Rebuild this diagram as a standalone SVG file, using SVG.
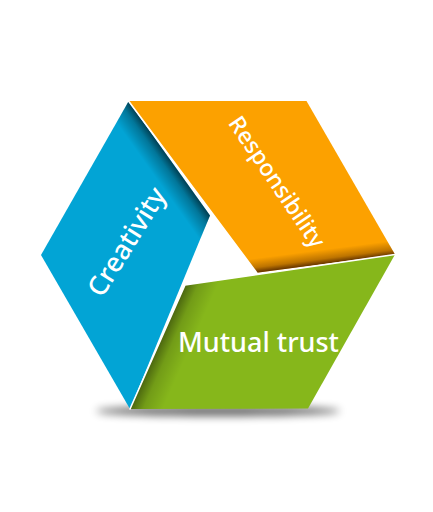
<svg xmlns="http://www.w3.org/2000/svg" width="433" height="512" viewBox="0 0 433 512">
  <style>
    .label { fill: #ffffff; font-family: "Noto Sans", "Open Sans", sans-serif; font-weight: 500; text-anchor: middle; }
    .edge { fill: none; stroke: #ffffff; stroke-width: 1.6; stroke-linecap: round; }
  </style>
  <defs>
    <filter id="blur" x="-50%" y="-200%" width="200%" height="500%">
      <feGaussianBlur stdDeviation="4"/>
    </filter>
    <linearGradient id="shadeBlue" gradientUnits="userSpaceOnUse" x1="169" y1="158.5" x2="151" y2="171.3">
      <stop offset="0" stop-color="#000" stop-opacity="0.6"/>
      <stop offset="0.35" stop-color="#000" stop-opacity="0.28"/>
      <stop offset="1" stop-color="#000" stop-opacity="0"/>
    </linearGradient>
    <linearGradient id="shadeOrange" gradientUnits="userSpaceOnUse" x1="325" y1="263.5" x2="323.2" y2="249.6">
      <stop offset="0" stop-color="#2a0a00" stop-opacity="0.7"/>
      <stop offset="0.35" stop-color="#2a0a00" stop-opacity="0.3"/>
      <stop offset="1" stop-color="#2a0a00" stop-opacity="0"/>
    </linearGradient>
    <linearGradient id="shadeGreen" gradientUnits="userSpaceOnUse" x1="157.5" y1="347" x2="185" y2="359.2">
      <stop offset="0" stop-color="#000" stop-opacity="0.45"/>
      <stop offset="0.4" stop-color="#000" stop-opacity="0.15"/>
      <stop offset="1" stop-color="#000" stop-opacity="0"/>
    </linearGradient>
  </defs>

  <g id="ground-shadow">
    <ellipse cx="218" cy="411" rx="122" ry="5" fill="#000" opacity="0.6" filter="url(#blur)"/>
  </g>

  <g id="creativity">
    <polygon points="128.5,101.5 41,255 130,409 210,215.5" fill="#02a4d5"/>
    <polygon points="128.5,101.5 41,255 130,409 210,215.5" fill="url(#shadeBlue)"/>
    <text class="label" font-size="27" transform="translate(127,242) rotate(-58)" y="9">Creativity</text>
  </g>

  <g id="responsibility">
    <polygon points="128.5,101 306.5,101 395,254.5 256.7,272.7" fill="#fca100"/>
    <polygon points="128.5,101 306.5,101 395,254.5 256.7,272.7" fill="url(#shadeOrange)"/>
    <line class="edge" x1="128.5" y1="101" x2="256.7" y2="272.7"/>
    <text class="label" font-size="23" transform="translate(277,182) rotate(56)" y="8">Responsibility</text>
  </g>

  <g id="mutual-trust">
    <polygon points="185,285 395,254.5 308,408.5 130,409" fill="#86b71b"/>
    <polygon points="185,285 395,254.5 308,408.5 130,409" fill="url(#shadeGreen)"/>
    <polyline class="edge" points="395,254.5 185,285 130,409"/>
    <text class="label" font-size="27" x="258.5" y="352">Mutual trust</text>
  </g>

  <g id="connectors"></g>
</svg>
